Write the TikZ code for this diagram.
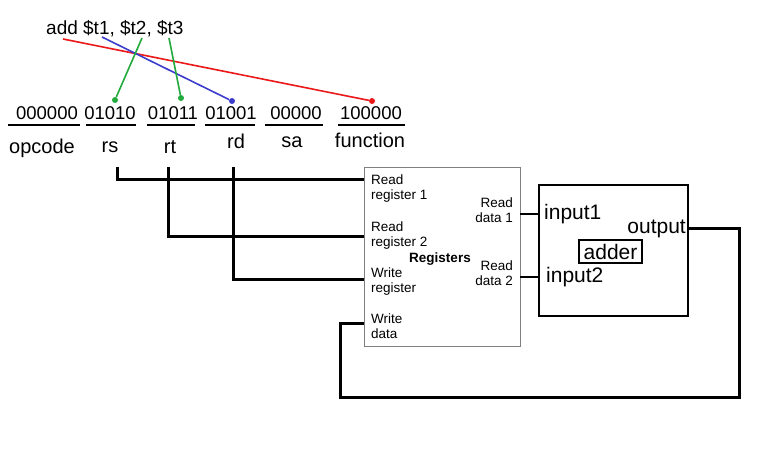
\documentclass[tikz,border=0pt]{standalone}
\usepackage{fontspec}
\setmainfont{Liberation Sans}
\usepackage{tikz}

\definecolor{mapred}{RGB}{235,25,25}
\definecolor{mapblue}{RGB}{60,60,205}
\definecolor{mapgreen}{RGB}{35,170,60}

\begin{document}
\begin{tikzpicture}[x=1pt,y=-1pt,bits/.style={inner sep=0,anchor=base,font=\fontsize{18.5}{20}\selectfont},fname/.style={inner sep=0,anchor=base,font=\fontsize{20}{22}\selectfont}]
\tikzstyle{port} = [inner sep=0, font=\fontsize{13.5}{15}\selectfont]
\tikzstyle{big} = [inner sep=0, font=\fontsize{21}{23}\selectfont]
\tikzstyle{wire} = [line width=3pt]
\tikzstyle{dot} = [circle, fill, inner sep=0, minimum size=6pt]

\useasboundingbox[fill=white] (0,0) rectangle (764,456);

% instruction and its fields
\node[inner sep=0, anchor=base west, font=\fontsize{19}{21}\selectfont] (instr) at (46,34) {add \$t1, \$t2, \$t3};
\node[bits] (opbits) at (47,119) {000000};
\node[bits] (rsbits) at (110,119) {01010};
\node[bits] (rtbits) at (173,119) {01011};
\node[bits] (rdbits) at (231,119) {01001};
\node[bits] (sabits) at (296,119) {00000};
\node[bits] (fnbits) at (371,119) {100000};
\draw[line width=2.5pt] (8,125) -- (80,125);
\draw[line width=2.5pt] (86,125) -- (136,125);
\draw[line width=2.5pt] (147,125) -- (195,125);
\draw[line width=2.5pt] (205,125) -- (255,125);
\draw[line width=2.5pt] (265,125) -- (323,125);
\draw[line width=2.5pt] (338,125) -- (405,125);
\node[fname] (opname) at (42,153) {opcode};
\node[fname] (rsname) at (110,152) {rs};
\node[fname] (rtname) at (170,153) {rt};
\node[fname] (rdname) at (236,148) {rd};
\node[fname] (saname) at (292,147) {sa};
\node[fname] (fnname) at (370,147) {function};

% which register goes where
\coordinate (t1) at (102,37);
\coordinate (t2) at (142,38);
\coordinate (t3) at (169,38);
\coordinate (op) at (63,39);
\node[dot, mapgreen] (rsdot) at (115,100) {};
\node[dot, mapgreen] (rtdot) at (181,98) {};
\node[dot, mapblue] (rddot) at (232,101) {};
\node[dot, mapred] (fndot) at (372,101) {};
\draw[mapred, line width=1.6pt] (op) -- (fndot);
\draw[mapblue, line width=1.6pt] (t1) -- (rddot);
\draw[mapgreen, line width=1.6pt] (t2) -- (rsdot);
\draw[mapgreen, line width=1.6pt] (t3) -- (rtdot);

% register file
\node[draw=gray, line width=0.8pt, minimum width=156pt, minimum height=179pt, inner sep=0] (regs) at (442,256.5) {};
\node[port, align=left, anchor=north west] (rr1) at (371,175) {Read\\register 1};
\node[port, align=left, anchor=north west] (rr2) at (371,222) {Read\\register 2};
\node[port, align=left, anchor=north west] (wreg) at (371,268) {Write\\register};
\node[port, align=left, anchor=north west] (wdat) at (371,314) {Write\\data};
\node[port, align=right, anchor=north east] (rd1) at (513,198) {Read\\data 1};
\node[port, align=right, anchor=north east] (rd2) at (513,261) {Read\\data 2};
\node[port, font=\fontsize{13.5}{15}\selectfont\bfseries] (regname) at (440,259) {Registers};

\coordinate (rstop) at (117,167);
\coordinate (rttop) at (168,167);
\coordinate (rdtop) at (233,167);
\coordinate (rr1in) at (364,179);
\coordinate (rr2in) at (364,236);
\coordinate (wregin) at (364,279);
\coordinate (wdatin) at (364,323);
\draw[wire] (rstop) |- (rr1in);
\draw[wire] (rttop) |- (rr2in);
\draw[wire] (rdtop) |- (wregin);

% adder
\node[draw, line width=2.5pt, minimum width=149pt, minimum height=131pt, inner sep=0] (adder) at (613.5,250.5) {};
\node[big, anchor=base west] (in1) at (544,219) {input1};
\node[big, anchor=base west] (in2) at (546,282) {input2};
\node[big, anchor=base east] (out) at (686,233) {output};
\node[big, draw, line width=2.5pt, minimum width=63pt, minimum height=23pt] (addname) at (610.5,251.5) {adder};
\draw[line width=2pt] (regs.east |- in1.west) -- (adder.west |- in1.west);
\draw[line width=2pt] (regs.east |- in2.west) -- (adder.west |- in2.west);

% result goes back to write data
\coordinate (fbr) at (739,397);
\coordinate (fbl) at (340,397);
\draw[wire] (adder.east |- out.east) -| (fbr) -- (fbl) |- (wdatin);

\end{tikzpicture}
\end{document}
